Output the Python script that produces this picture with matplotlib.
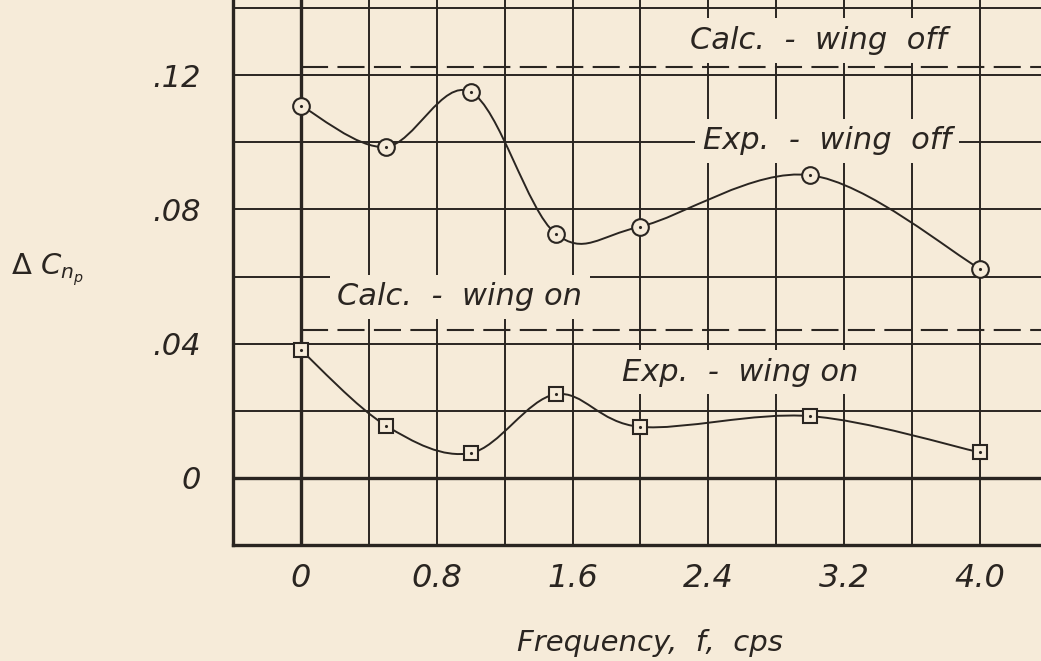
import numpy as np
import matplotlib
matplotlib.use("Agg")
import matplotlib.pyplot as plt
from matplotlib.path import Path
from matplotlib.patches import PathPatch

# data
freq = [0.0, 0.5, 1.0, 1.5, 2.0, 3.0, 4.0]
exp_wing_off = [0.1109, 0.0986, 0.1150, 0.0728, 0.0749, 0.0902, 0.0623]
exp_wing_on = [0.0381, 0.0156, 0.0074, 0.0249, 0.0152, 0.0184, 0.0076]
calc_wing_off = 0.1225
calc_wing_on = 0.0440

x_ticks = [0.0, 0.8, 1.6, 2.4, 3.2, 4.0]
x_tick_labels = ["0", "0.8", "1.6", "2.4", "3.2", "4.0"]
y_ticks = [0.0, 0.04, 0.08, 0.12]
y_tick_labels = ["0", ".04", ".08", ".12"]

BG = "#f6ebd9"
INK = "#2a2521"


def smooth_path(xs, ys):
    # catmull-rom through the points, drawn as cubic bezier segments
    pts = np.column_stack([xs, ys])
    ext = np.vstack([pts[0], pts, pts[-1]])
    verts = [pts[0]]
    codes = [Path.MOVETO]
    for i in range(1, len(ext) - 2):
        p0, p1, p2, p3 = ext[i - 1], ext[i], ext[i + 1], ext[i + 2]
        c1 = p1 + (p2 - p0) / 6.0
        c2 = p2 - (p3 - p1) / 6.0
        verts += [c1, c2, p2]
        codes += [Path.CURVE4] * 3
    return Path(verts, codes)


fig = plt.figure(figsize=(10.41, 6.61), dpi=100, facecolor=BG)
ax = fig.add_axes([233 / 1041, 116 / 661, 808 / 1041, 545 / 661])
ax.set_facecolor(BG)
ax.set_xlim(-0.4, 4.359)
ax.set_ylim(-0.02, 0.1424)

# grid
for gx in np.arange(-0.4, 4.41, 0.4):
    lw = 2.4 if abs(gx) < 1e-9 else 1.4
    ax.axvline(gx, color=INK, lw=lw, zorder=1)
for gy in np.arange(-0.02, 0.141, 0.02):
    lw = 2.4 if abs(gy) < 1e-9 else 1.4
    ax.axhline(gy, color=INK, lw=lw, zorder=1)

for side in ["top", "right"]:
    ax.spines[side].set_visible(False)
for side in ["left", "bottom"]:
    ax.spines[side].set_linewidth(2.4)
    ax.spines[side].set_color(INK)

# calculated values
ax.plot([0, 4.359], [calc_wing_off, calc_wing_off], color=INK, lw=1.5,
        dashes=(13, 4.5), zorder=3)
ax.plot([0, 4.359], [calc_wing_on, calc_wing_on], color=INK, lw=1.5,
        dashes=(13, 4.5), zorder=3)

# faired curves
for ys in (exp_wing_off, exp_wing_on):
    ax.add_patch(PathPatch(smooth_path(freq, ys), fill=False, edgecolor=INK,
                           lw=1.4, zorder=4))

ax.plot(freq, exp_wing_off, ls="none", marker="o", ms=12, mfc=BG,
        mec=INK, mew=1.5, zorder=5)
ax.plot(freq, exp_wing_on, ls="none", marker="s", ms=10.5, mfc=BG,
        mec=INK, mew=1.5, zorder=5)
ax.plot(freq, exp_wing_off, ls="none", marker=".", ms=2.5, color=INK, zorder=6)
ax.plot(freq, exp_wing_on, ls="none", marker=".", ms=2.5, color=INK, zorder=6)

# labels on the chart
box = dict(boxstyle="square,pad=0.25", facecolor=BG, edgecolor="none")
txt = dict(color=INK, fontsize=22, style="italic", ha="center", va="center",
           bbox=box, zorder=2)
ax.text(3.05, 0.1303, "Calc.  -  wing  off", **txt)
ax.text(3.10, 0.1004, "Exp.  -  wing  off", **txt)
ax.text(0.935, 0.0539, "Calc.  -  wing on", **txt)
ax.text(2.59, 0.0315, "Exp.  -  wing on", **txt)

ax.set_xticks(x_ticks)
ax.set_xticklabels(x_tick_labels, fontsize=23, style="italic", color=INK)
ax.set_yticks(y_ticks)
ax.set_yticklabels(y_tick_labels, fontsize=22, style="italic", color=INK)
ax.tick_params(axis="x", length=0, pad=13)
ax.tick_params(axis="y", length=0, pad=23)

plt.rcParams["mathtext.fontset"] = "dejavusans"
ax.set_xlabel("Frequency,  f,  cps", fontsize=21, style="italic", color=INK,
              va="center")
ax.xaxis.set_label_coords((650 - 233) / 808, -(643 - 545) / 545)
ax.set_ylabel(r"$\Delta\ C_{n_p}$", fontsize=21, color=INK, rotation=0,
              va="center")
ax.yaxis.set_label_coords((48 - 233) / 808, (545 - 270) / 545)

fig.savefig("out.png", dpi=100, facecolor=BG)
